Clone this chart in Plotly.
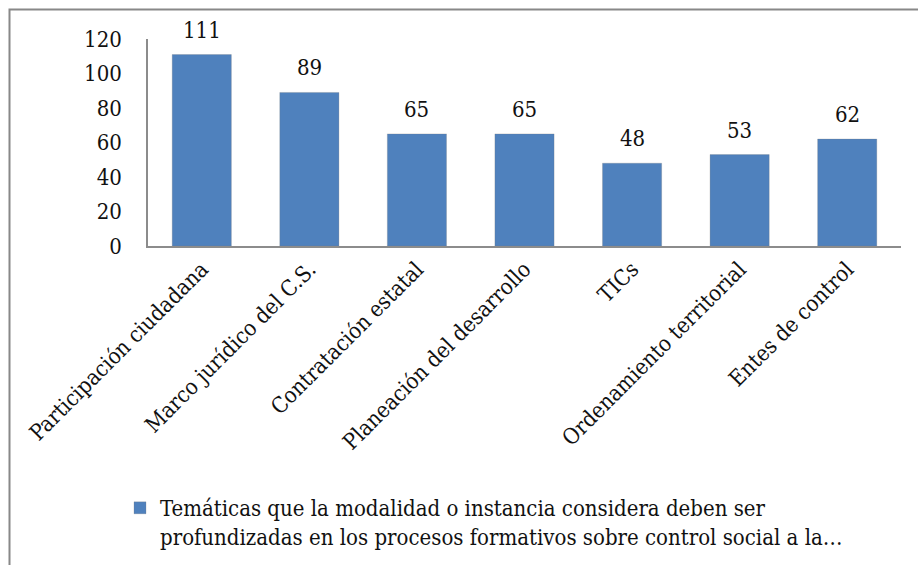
import plotly.graph_objects as go

categories = [
    "Participación ciudadana",
    "Marco jurídico del C.S.",
    "Contratación estatal",
    "Planeación del desarrollo",
    "TICs",
    "Ordenamiento territorial",
    "Entes de control",
]
values = [111, 89, 65, 65, 48, 53, 62]
series_name = ("Temáticas que la modalidad o instancia considera deben ser<br>"
               "profundizadas en los procesos formativos sobre control social a la…")
y_ticks = [0, 20, 40, 60, 80, 100, 120]

FONT = "DejaVu Serif Condensed, DejaVu Serif, serif"
FS = 22
BLUE = "#4F81BD"
AXIS = "#8C8C8C"
INK = "#111111"

W, H = 918, 565
L, R, T, B = 148, 17, 39, 319
pw, ph = W - L - R, H - T - B


def px_x(x):
    return (x - L) / pw


def px_y(y):
    return (H - B - y) / ph


fig = go.Figure()
fig.add_trace(go.Bar(
    x=categories,
    y=values,
    name=series_name,
    marker=dict(color=BLUE, line=dict(color="rgba(120,120,120,0.25)", width=1)),
    width=0.55,
    showlegend=True,
))

# value labels above each bar
for cat, v in zip(categories, values):
    fig.add_annotation(
        x=cat, y=v, text=str(v), showarrow=False,
        xanchor="center", yanchor="bottom", yshift=10,
        font=dict(family=FONT, size=FS, color=INK),
    )

# chart frame
fig.add_shape(type="rect", xref="paper", yref="paper",
              x0=px_x(9.5), x1=px_x(940), y0=px_y(600), y1=px_y(9.5),
              line=dict(color="#888888", width=2), fillcolor="rgba(0,0,0,0)",
              layer="below")

fig.update_layout(
    width=W, height=H,
    margin=dict(l=L, r=R, t=T, b=B, autoexpand=False),
    paper_bgcolor="white",
    plot_bgcolor="white",
    font=dict(family=FONT, size=FS, color=INK),
    xaxis=dict(
        tickangle=-45,
        showline=True, linecolor=AXIS, linewidth=1.5,
        showgrid=False, ticks="",
        tickfont=dict(family=FONT, size=FS, color=INK),
    ),
    yaxis=dict(
        range=[0, 120],
        tickvals=y_ticks,
        showline=True, linecolor=AXIS, linewidth=1.5,
        showgrid=False, zeroline=False, ticks="",
        ticklabelstandoff=20,
        tickfont=dict(family=FONT, size=FS, color=INK),
    ),
    legend=dict(
        orientation="h",
        x=px_x(120), xanchor="left",
        y=px_y(487), yanchor="top",
        valign="top",
        font=dict(family=FONT, size=FS, color=INK),
        itemwidth=30,
        bgcolor="rgba(0,0,0,0)",
    ),
)

fig.write_html("out.html")
